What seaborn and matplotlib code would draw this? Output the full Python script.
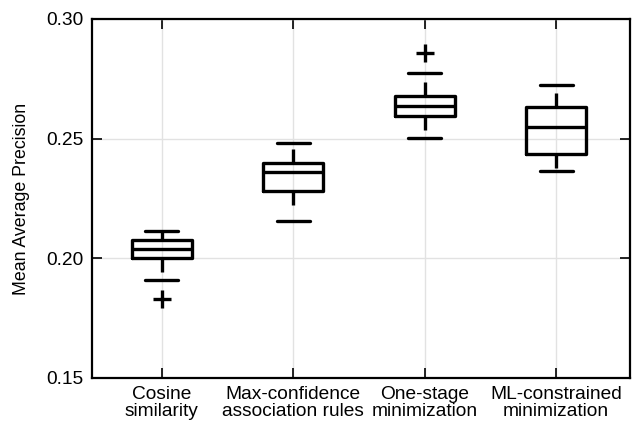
import matplotlib
matplotlib.use("Agg")
import matplotlib.pyplot as plt
import seaborn as sns

categories = ["Cosine\nsimilarity", "Max-confidence\nassociation rules",
              "One-stage\nminimization", "ML-constrained\nminimization"]
whislo = [0.1908, 0.2158, 0.2501, 0.2365]
q1 = [0.2000, 0.2280, 0.2596, 0.2435]
med = [0.2038, 0.2361, 0.2635, 0.2549]
q3 = [0.2076, 0.2399, 0.2679, 0.2631]
whishi = [0.2113, 0.2483, 0.2775, 0.2724]
fliers = [[0.1831], [], [0.2856], []]
yticks = [0.15, 0.20, 0.25, 0.30]

sns.set_theme(style="white")
plt.rcParams['font.family'] = ['Liberation Sans', 'DejaVu Sans']

fig = plt.figure(figsize=(6.4, 4.25), dpi=100)
ax = fig.add_axes([0.1437, 0.1106, 0.8403, 0.8447])

stats = []
for i in range(len(categories)):
    stats.append(dict(med=med[i], q1=q1[i], q3=q3[i], whislo=whislo[i],
                      whishi=whishi[i], fliers=fliers[i], label=categories[i]))

lw = 2.4
ax.bxp(stats, positions=range(len(categories)), widths=0.455, capwidths=0.25,
       boxprops=dict(color='black', linewidth=lw),
       medianprops=dict(color='black', linewidth=lw),
       whiskerprops=dict(color='black', linewidth=lw, linestyle=(0, (4.2, 4.9))),
       capprops=dict(color='black', linewidth=lw),
       flierprops=dict(marker='+', markersize=13, markeredgewidth=2.4,
                       markeredgecolor='black', linestyle='none'),
       zorder=3)

ax.set_xlim(-0.53, 3.56)
ax.set_ylim(0.15, 0.30)
ax.set_yticks(yticks)
ax.set_yticklabels([f"{v:.2f}" for v in yticks])
ax.set_xticks(range(len(categories)))
ax.set_xticklabels(categories, linespacing=0.95)
ax.grid(True, color='#e2e2e2', linewidth=1.0, zorder=0)
ax.set_axisbelow(True)
ax.tick_params(direction='in', length=7, width=1.2, color='black',
               top=True, right=True, bottom=True, left=True,
               labelsize=13.8, labelcolor='black', pad=6)
for s in ax.spines.values():
    s.set_color('black')
    s.set_linewidth(1.6)
ax.set_ylabel("Mean Average Precision", fontsize=12.8, color='black', labelpad=12)

fig.savefig("out.png", dpi=100)
